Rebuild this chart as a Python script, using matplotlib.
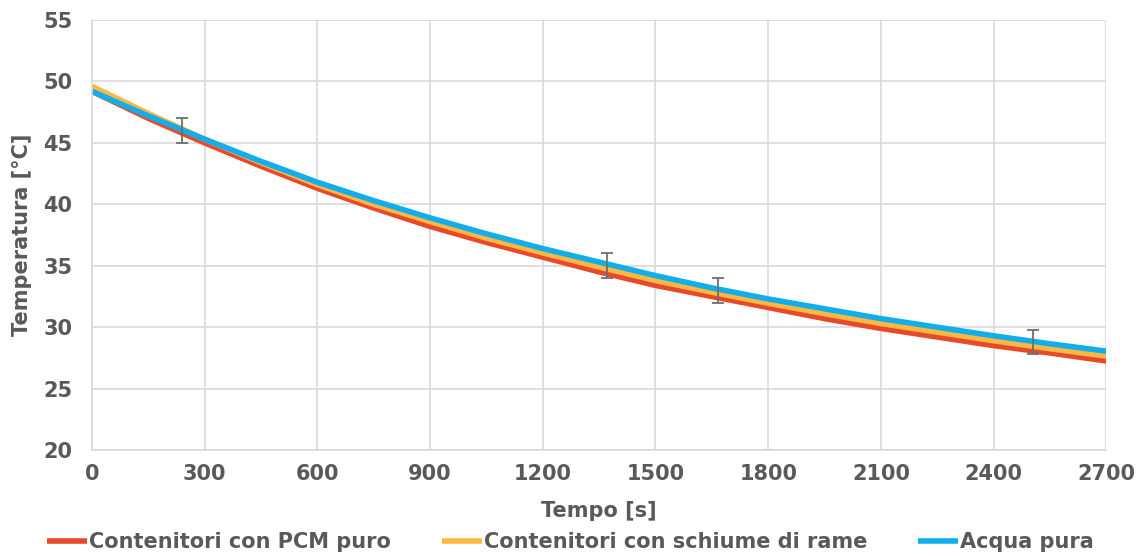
import matplotlib
matplotlib.use("Agg")
import matplotlib.pyplot as plt
import numpy as np

# time axis [s]
tempo = [0, 150, 300, 450, 600, 750, 900, 1050, 1200, 1350,
         1500, 1650, 1800, 1950, 2100, 2250, 2400, 2550, 2700]

# temperature readings [°C]
pcm_puro = [49.2, 47.0, 45.0, 43.1, 41.3, 39.7, 38.2, 36.9, 35.7, 34.5,
            33.4, 32.5, 31.6, 30.7, 29.9, 29.2, 28.5, 27.9, 27.25]
schiume_rame = [49.6, 47.4, 45.3, 43.4, 41.6, 40.0, 38.6, 37.25, 36.05, 34.9,
                33.8, 32.85, 31.95, 31.1, 30.3, 29.6, 28.9, 28.25, 27.65]
acqua_pura = [49.2, 47.2, 45.3, 43.5, 41.8, 40.3, 38.9, 37.6, 36.4, 35.3,
              34.2, 33.2, 32.3, 31.5, 30.7, 30.0, 29.3, 28.65, 28.05]

# error bars (on the Acqua pura curve)
err_t = [239, 1370, 1667, 2506]
err_y = [46.0, 35.0, 33.0, 28.8]
err_val = [1.0, 1.0, 1.0, 1.0]

labels = ["Contenitori con PCM puro", "Contenitori con schiume di rame", "Acqua pura"]
colors = ["#E8492A", "#FDB843", "#12AEEB"]
TXT = "#595959"
GRID = "#D9D9D9"

fig = plt.figure(figsize=(11.41, 5.57), dpi=100)
ax = fig.add_axes([0.0806, 0.192, 0.889, 0.772])

for series, lab, col in zip([pcm_puro, schiume_rame, acqua_pura], labels, colors):
    ax.plot(tempo, series, color=col, lw=4.0, label=lab, solid_capstyle="butt")

ax.errorbar(err_t, err_y, yerr=err_val, fmt="none", ecolor="#6E6E6E",
            elinewidth=1.3, capsize=4, capthick=1.3, zorder=5)

ax.set_xlim(0, 2700)
ax.set_ylim(20, 55)
ax.set_xticks(np.arange(0, 2701, 300))
ax.set_yticks(np.arange(20, 56, 5))
ax.grid(True, color=GRID, lw=1.2)
ax.set_axisbelow(True)
for s in ["top", "right"]:
    ax.spines[s].set_visible(False)
for s in ["left", "bottom"]:
    ax.spines[s].set_color(GRID)
    ax.spines[s].set_linewidth(1.2)
ax.tick_params(axis="x", length=0, pad=10, labelsize=15, labelcolor=TXT)
ax.tick_params(axis="y", length=0, pad=14, labelsize=15, labelcolor=TXT)
for t in ax.get_xticklabels() + ax.get_yticklabels():
    t.set_fontweight("bold")

ax.set_xlabel("Tempo [s]", fontsize=15, fontweight="bold", color=TXT, labelpad=12)
ax.set_ylabel("Temperatura [°C]", fontsize=15, fontweight="bold", color=TXT, labelpad=8)

fig.legend(loc="lower center", bbox_to_anchor=(0.5, -0.025), ncol=3, frameon=False,
           handlelength=1.9, handletextpad=0.1, columnspacing=2.45,
           labelcolor=TXT, prop={"weight": "bold", "size": 15})

fig.savefig("out.png", dpi=100)
